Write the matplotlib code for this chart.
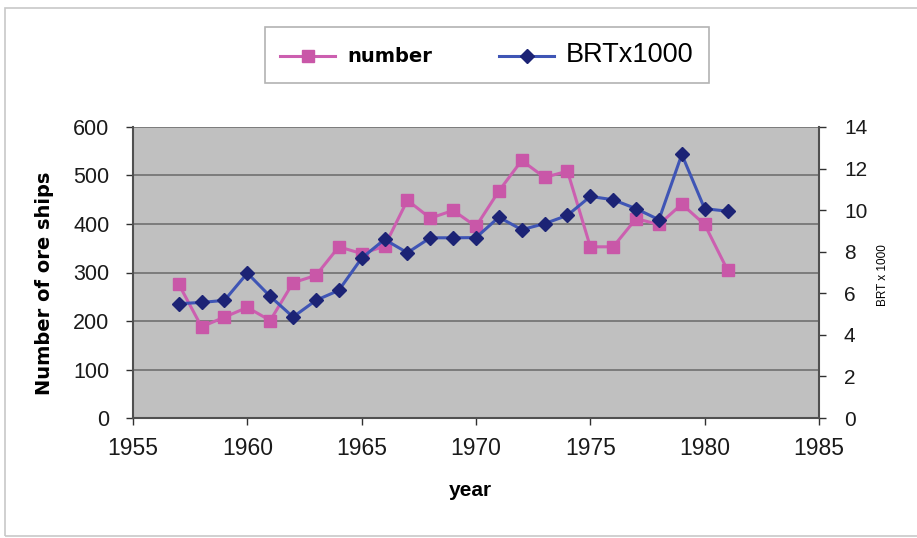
import matplotlib
matplotlib.use("Agg")
import matplotlib.pyplot as plt
from matplotlib.patches import Rectangle

years = list(range(1957, 1982))
number = [276, 188, 208, 228, 201, 279, 294, 353, 339, 354, 449, 412, 428, 395,
          468, 531, 496, 509, 353, 353, 411, 399, 441, 399, 305]
brt = [5.5, 5.56, 5.66, 6.97, 5.85, 4.86, 5.66, 6.14, 7.69, 8.59, 7.95, 8.67, 8.67, 8.68,
       9.66, 9.06, 9.35, 9.75, 10.66, 10.5, 10.07, 9.54, 12.68, 10.07, 9.95]
left_ticks = [0, 100, 200, 300, 400, 500, 600]
right_ticks = [0, 2, 4, 6, 8, 10, 12, 14]
x_ticks = [1955, 1960, 1965, 1970, 1975, 1980, 1985]

plt.rcParams['font.family'] = ['Liberation Sans', 'DejaVu Sans']

W, H = 917, 538
fig = plt.figure(figsize=(W / 100, H / 100), dpi=100)
fig.patch.set_facecolor('white')

# outer border
fig.add_artist(Rectangle((5 / W, 1 - 536 / H), (W + 5) / W, (536 - 8) / H,
                         transform=fig.transFigure, fill=False,
                         edgecolor='#c8c8c8', linewidth=1.2))

L, R, T, B = 133, 819, 127, 418
ax = fig.add_axes([L / W, 1 - B / H, (R - L) / W, (B - T) / H])
ax.set_facecolor('#c0c0c0')
ax.set_xlim(1955, 1985)
ax.set_ylim(0, 600)
ax.set_xticks(x_ticks)
ax.set_yticks(left_ticks)
ax.yaxis.grid(True, color='#707070', linewidth=1.2)
ax.set_axisbelow(True)
for s in ['top', 'right']:
    ax.spines[s].set_visible(False)
for s in ['left', 'bottom']:
    ax.spines[s].set_color('#505050')
    ax.spines[s].set_linewidth(1.5)
ax.tick_params(axis='both', colors='#303030', length=5, width=1,
               labelcolor='#1a1a1a')
ax.tick_params(axis='x', labelsize=16.5, pad=9)
ax.tick_params(axis='y', labelsize=15.5, pad=12)

ax2 = ax.twinx()
ax2.set_ylim(0, 14)
ax2.set_yticks(right_ticks)
for s in ['top', 'left', 'bottom']:
    ax2.spines[s].set_visible(False)
ax2.spines['right'].set_color('#505050')
ax2.spines['right'].set_linewidth(1.5)
ax2.tick_params(axis='y', labelsize=15, colors='#303030', length=5,
                width=1, labelcolor='#1a1a1a', pad=13)

l1, = ax.plot(years, number, color='#cc5fb0', linewidth=2.2, marker='s',
              markersize=9, markerfacecolor='#c957a8', markeredgecolor='#c957a8',
              label='number', zorder=3)
l2, = ax2.plot(years, brt, color='#3f55b5', linewidth=2.2, marker='D',
               markersize=7.5, markerfacecolor='#1c2375', markeredgecolor='#1c2375',
               label='BRTx1000', zorder=3)

ax.set_ylabel('Number of ore ships', fontsize=14, fontweight='bold',
              family=['DejaVu Sans'])
ax.yaxis.set_label_coords((45 - L) / (R - L), 0.462)
ax.yaxis.label.set_va('center')
ax2.set_ylabel('BRT x 1000', fontsize=8.5)
ax2.yaxis.set_label_coords((883 - L) / (R - L), 0.49)
ax2.yaxis.label.set_va('center')
ax.set_xlabel('year', fontsize=15, fontweight='bold')
ax.xaxis.set_label_coords((470 - L) / (R - L), -(490 - B) / (B - T))
ax.xaxis.label.set_va('center')

leg = fig.legend([l1, l2], ['number', 'BRTx1000'], loc='center',
                 bbox_to_anchor=(487 / W, 1 - 55 / H), ncol=2, frameon=True,
                 fancybox=False, edgecolor='#a0a0a0', handlelength=3.05,
                 handletextpad=0.67, columnspacing=3.7, borderpad=0.85,
                 borderaxespad=0, fontsize=13)
leg.get_frame().set_linewidth(1.2)
texts = leg.get_texts()
texts[0].set_fontweight('bold')
texts[0].set_family(['DejaVu Sans'])
texts[0].set_fontsize(14)
texts[1].set_fontsize(19.5)

fig.savefig('out.png', dpi=100)
